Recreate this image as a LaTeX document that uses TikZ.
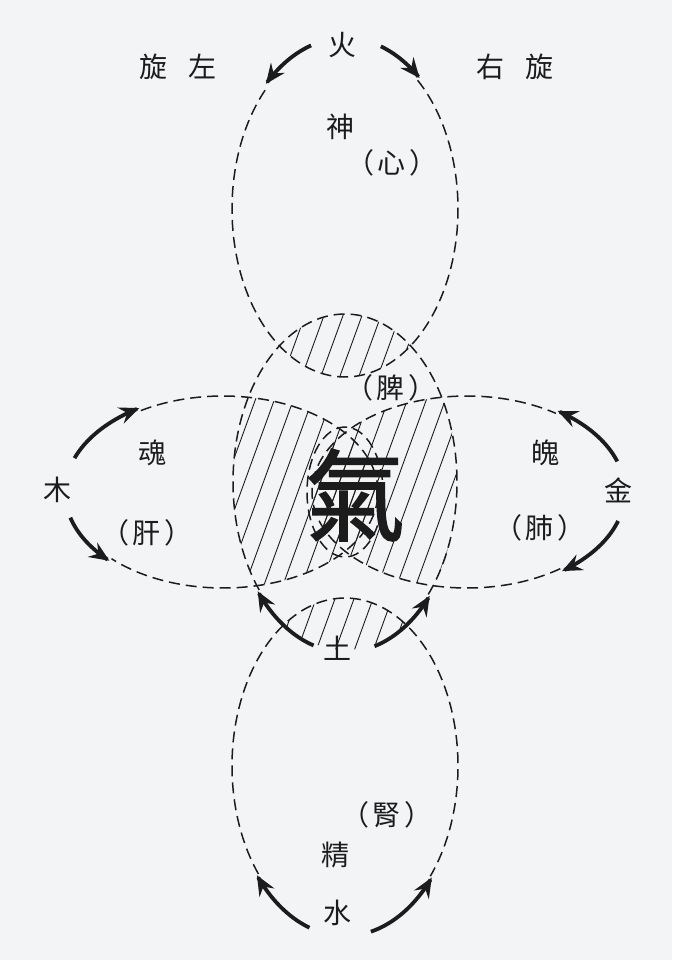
\documentclass[tikz,border=0pt]{standalone}
\usepackage{fontspec}
\newfontfamily\cjk{Noto Sans CJK TC}
\newfontfamily\cjkheavy[FakeBold=1.6]{Noto Sans CJK TC}
\usetikzlibrary{arrows.meta}
\definecolor{bgc}{RGB}{243,244,246}
\definecolor{ink}{RGB}{28,28,28}
\begin{document}
\begin{tikzpicture}[x=1pt,y=-1pt,
  dsh/.style={draw=ink, line width=1.5pt, dash pattern=on 11pt off 6pt},
  arr/.style={draw=ink, line width=3.8pt, -{Stealth[length=20pt,width=17pt,inset=7pt]}},
  hatchline/.style={draw=ink, line width=0.9pt},
  lab/.style={font=\cjk\fontsize{28}{28}\selectfont, text=ink, inner sep=0pt},
  big/.style={font=\cjkheavy\fontsize{100}{100}\selectfont, text=ink, inner sep=0pt}]
\useasboundingbox (0,0) rectangle (672,960);
\fill[bgc] (0,0) rectangle (672,960);

% ---------- hatching ----------
\newcommand{\HatchLines}{\foreach \k in {6,...,32} {\draw[hatchline] ({\k*19-100},750) -- ({\k*19+100},200);}}
\begin{scope}
  \clip (345,209) ellipse [x radius=113, y radius=168];
  \clip (345,482) ellipse [x radius=112, y radius=168];
  \HatchLines
\end{scope}
\begin{scope}
  \clip (345,766) ellipse [x radius=113, y radius=168];
  \clip (345,482) ellipse [x radius=112, y radius=168];
  \HatchLines
\end{scope}
\begin{scope}
  \clip (223,492) ellipse [x radius=155, y radius=96];
  \clip (345,482) ellipse [x radius=112, y radius=168];
  \HatchLines
\end{scope}
\begin{scope}
  \clip (467,492) ellipse [x radius=155, y radius=96];
  \clip (345,482) ellipse [x radius=112, y radius=168];
  \HatchLines
\end{scope}

% ---------- dashed ellipses ----------
% top (fire)
\draw[dsh] plot[domain=-50:226, samples=140, smooth] ({345+113*cos(\x)},{209+168*sin(\x)});
% middle (spleen)
\draw[dsh] plot[domain=140:402, samples=140, smooth] ({345+112*cos(\x)},{482+168*sin(\x)});
% bottom (water)
\draw[dsh] plot[domain=140:401, samples=140, smooth] ({345+113*cos(\x)},{766+168*sin(\x)});
% left (wood)
\draw[dsh] plot[domain=-122:136, samples=140, smooth] ({223+155*cos(\x)},{492+96*sin(\x)});
% right (metal)
\draw[dsh] plot[domain=53:305, samples=140, smooth] ({467+155*cos(\x)},{492+96*sin(\x)});
% centre
\draw[dsh] (345,492) ellipse [x radius=38, y radius=65];

% ---------- arrows ----------
\draw[arr] plot[domain=253:227, samples=30, smooth] ({345+116*cos(\x)},{209+171*sin(\x)});
\draw[arr] plot[domain=288:310, samples=30, smooth] ({345+116*cos(\x)},{209+171*sin(\x)});
\draw[arr] plot[domain=106:140, samples=30, smooth] ({345+114*cos(\x)},{482+170*sin(\x)});
\draw[arr] plot[domain=75:42, samples=30, smooth] ({345+114*cos(\x)},{482+170*sin(\x)});
\draw[arr] plot[domain=108:140, samples=30, smooth] ({345+115*cos(\x)},{766+170*sin(\x)});
\draw[arr] plot[domain=77:41, samples=30, smooth] ({345+115*cos(\x)},{766+170*sin(\x)});
\draw[arr] plot[domain=200:238, samples=30, smooth] ({223+158*cos(\x)},{492+99*sin(\x)});
\draw[arr] plot[domain=165:136, samples=30, smooth] ({223+158*cos(\x)},{492+99*sin(\x)});
\draw[arr] plot[domain=-18:-55, samples=30, smooth] ({467+158*cos(\x)},{492+99*sin(\x)});
\draw[arr] plot[domain=17:53, samples=30, smooth] ({467+158*cos(\x)},{492+99*sin(\x)});

% ---------- labels ----------
\node[lab] (fire) at (342,45) {火};
\node[lab] (left) at (178,67) {旋\hspace{22pt}左};
\node[lab] (right) at (515,67) {右\hspace{22pt}旋};
\node[lab] (shen) at (340,127) {神};
\node[lab] (xin) at (392,163) {（\hspace{4pt}心\hspace{4pt}）};
\node[lab] (pi) at (391,388) {（\hspace{4pt}脾\hspace{4pt}）};
\node[lab] (hun) at (152,453) {魂};
\node[lab] (gan) at (147,533) {（\hspace{4pt}肝\hspace{4pt}）};
\node[lab] (po) at (545,453) {魄};
\node[lab] (fei) at (540,528) {（\hspace{4pt}肺\hspace{4pt}）};
\node[lab] (wood) at (57,490) {木};
\node[lab] (metal) at (618,490) {金};
\node[big] (qi) at (355,495) {氣};
\node[lab] (earth) at (337,648) {土};
\node[lab] (shen2) at (387,815) {（\hspace{4pt}腎\hspace{4pt}）};
\node[lab] (jing) at (335,855) {精};
\node[lab] (water) at (337,913) {水};
\end{tikzpicture}
\end{document}
